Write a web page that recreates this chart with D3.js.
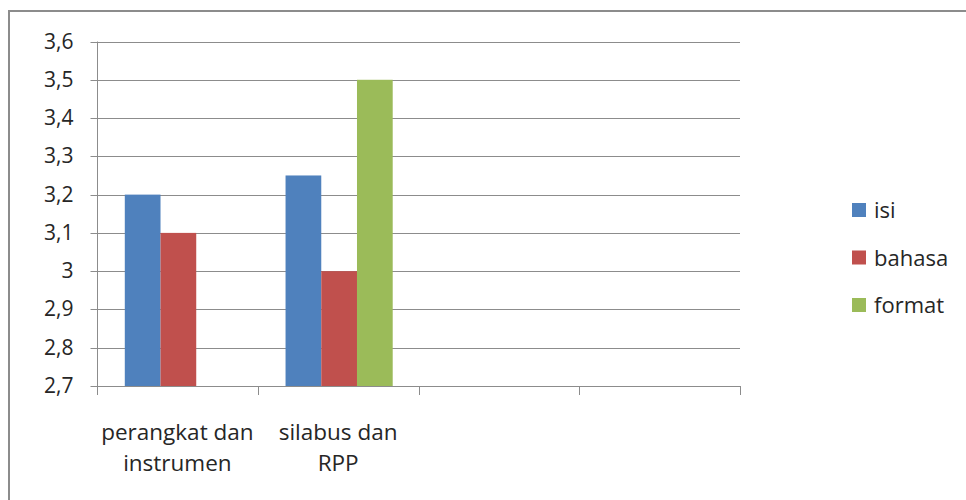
<!DOCTYPE html>
<html>
<head>
<meta charset="utf-8">
<script src="https://cdn.jsdelivr.net/npm/d3@7"></script>
<style>
  html, body { margin: 0; padding: 0; background: #fff; }
  svg { display: block; }
  text { font-family: "Open Sans", sans-serif; fill: #262626; }
</style>
</head>
<body>
<svg id="chart" width="966" height="500"></svg>
<script>
// Category labels (two empty slots on the right, as in the source sheet)
const categories = ["perangkat dan instrumen", "silabus dan RPP", "", " "];
const seriesNames = ["isi", "bahasa", "format"];
const seriesColors = ["#4F81BD", "#C0504D", "#9BBB59"];
// Values per category, null where a series has no value
const isiValues = [3.2, 3.25, null, null];
const bahasaValues = [3.1, 3.0, null, null];
const formatValues = [null, 3.5, null, null];
const yTicks = [2.7, 2.8, 2.9, 3.0, 3.1, 3.2, 3.3, 3.4, 3.5, 3.6];

const seriesValues = [isiValues, bahasaValues, formatValues];

const svg = d3.select("#chart");
const plot = { left: 97, right: 740, top: 41.5, bottom: 386 };

// Chart area frame (left and top edges)
svg.append("path")
  .attr("d", `M9,500 V11 H966`)
  .attr("fill", "none")
  .attr("stroke", "#8c8c8c")
  .attr("stroke-width", 2);

const x = d3.scaleBand()
  .domain(categories)
  .range([plot.left, plot.right])
  .paddingInner(0)
  .paddingOuter(0);

const y = d3.scaleLinear()
  .domain([2.7, 3.6])
  .range([plot.bottom, plot.top]);

// Excel-style gap width of 150%
const barW = x.bandwidth() / (seriesNames.length + 1.5);
const xInner = d3.scaleBand()
  .domain(seriesNames)
  .range([0, barW * seriesNames.length]);

// Horizontal gridlines
svg.append("g")
  .selectAll("line")
  .data(yTicks.slice(1))
  .join("line")
  .attr("x1", plot.left).attr("x2", plot.right)
  .attr("y1", d => Math.round(y(d)) + 0.5)
  .attr("y2", d => Math.round(y(d)) + 0.5)
  .attr("stroke", "#8c8c8c")
  .attr("stroke-width", 1);

// Bars
const groups = svg.append("g")
  .selectAll("g")
  .data(categories)
  .join("g")
  .attr("transform", d => `translate(${x(d) + barW * 0.75 + 1},0)`);

groups.each(function(cat, ci) {
  const g = d3.select(this);
  seriesNames.forEach((name, si) => {
    const v = seriesValues[si][ci];
    if (v == null) return;
    g.append("rect")
      .attr("x", xInner(name))
      .attr("width", xInner.bandwidth())
      .attr("y", y(v))
      .attr("height", y(2.7) - y(v))
      .attr("fill", seriesColors[si]);
  });
});

// Y axis
const yAxis = d3.axisLeft(y)
  .tickValues(yTicks)
  .tickSize(7)
  .tickPadding(17)
  .tickFormat(d => d3.format(".1f")(d).replace(".0", "").replace(".", ","));

const yG = svg.append("g")
  .attr("transform", `translate(${plot.left + 0.5},0)`)
  .call(yAxis);
yG.selectAll("line, path").attr("stroke", "#8c8c8c");
yG.select(".domain").attr("d", `M0,${plot.top}V${plot.bottom}`);
yG.selectAll(".tick").attr("transform", d => `translate(0,${Math.round(y(d)) + 0.5})`);
yG.selectAll("text")
  .style("font-family", "'Open Sans', sans-serif")
  .attr("font-size", 21)
  .attr("fill", "#262626");

// X axis with ticks on category boundaries
const boundaries = categories.map(c => x(c)).concat([plot.right]);
const xG = svg.append("g");
xG.append("line")
  .attr("x1", plot.left).attr("x2", plot.right)
  .attr("y1", plot.bottom + 0.5).attr("y2", plot.bottom + 0.5)
  .attr("stroke", "#8c8c8c");
xG.selectAll("line.tick")
  .data(boundaries)
  .join("line")
  .attr("class", "tick")
  .attr("x1", d => Math.round(d) + 0.5).attr("x2", d => Math.round(d) + 0.5)
  .attr("y1", plot.bottom).attr("y2", plot.bottom + 9)
  .attr("stroke", "#8c8c8c");

// Category labels, wrapped to two lines
const wrapped = {
  "perangkat dan instrumen": ["perangkat dan", "instrumen"],
  "silabus dan RPP": ["silabus dan", "RPP"]
};
xG.selectAll("text.cat")
  .data(categories.filter(c => wrapped[c]))
  .join("text")
  .attr("class", "cat")
  .attr("text-anchor", "middle")
  .attr("font-size", 22.5)
  .each(function(c) {
    const t = d3.select(this);
    wrapped[c].forEach((line, i) => {
      t.append("tspan")
        .attr("x", x(c) + x.bandwidth() / 2)
        .attr("y", 440 + i * 31)
        .text(line);
    });
  });

// Legend
const legend = svg.append("g")
  .selectAll("g")
  .data(seriesNames)
  .join("g")
  .attr("transform", (d, i) => `translate(852,${210 + i * 47.5})`);
legend.append("rect")
  .attr("x", 0).attr("y", -7)
  .attr("width", 14).attr("height", 14)
  .attr("fill", (d, i) => seriesColors[i]);
legend.append("text")
  .attr("x", 22).attr("y", 8)
  .attr("font-size", 22)
  .text(d => d);
</script>
</body>
</html>
